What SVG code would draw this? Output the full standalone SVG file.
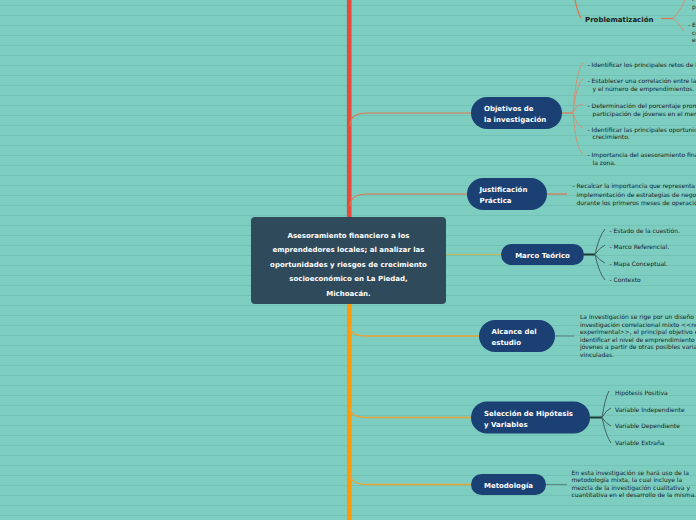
<svg xmlns="http://www.w3.org/2000/svg" width="696" height="520" viewBox="0 0 696 520">
<defs>
<pattern id="bg" width="10" height="10" patternUnits="userSpaceOnUse">
<rect width="10" height="10" fill="#7dcdc0"/>
<rect y="5" width="10" height="1" fill="#72c3b6"/>
</pattern>
<style>
.pill{fill:#1b4073}
.nt{font-family:"DejaVu Sans",Verdana,sans-serif;font-size:7px;font-weight:bold;fill:#ffffff}
.ct{font-family:"DejaVu Sans",Verdana,sans-serif;font-size:7px;font-weight:bold;fill:#ffffff;text-anchor:middle}
.st{font-family:"DejaVu Sans",Verdana,sans-serif;font-size:6px;fill:#16211f}
.pt{font-family:"DejaVu Sans",Verdana,sans-serif;font-size:7px;font-weight:bold;fill:#1a1a1a}
.red{fill:none;stroke:#e2744f;stroke-width:1.2}
.redf{fill:none;stroke:#d98c6c;stroke-width:0.9}
.org{fill:none;stroke:#eca334;stroke-width:1.3}
.yel{fill:none;stroke:#d2b452;stroke-width:1}
.dk{fill:none;stroke:#1f3a36;stroke-width:2}
.dkf{fill:none;stroke:#3d5a56;stroke-width:0.9}
.gr{fill:none;stroke:#5f8a86;stroke-width:1.2}
</style>
</defs>
<rect width="696" height="520" fill="url(#bg)"/>

<g id="connectors">
<line x1="349.2" y1="0" x2="349.2" y2="230" stroke="#e8493a" stroke-width="4.6"/>
<line x1="349.2" y1="290" x2="349.2" y2="520" stroke="#fd9a0c" stroke-width="4.6"/>
<path class="red" d="M350,126 C350,117 355,113 368,113 L472,113"/>
<path class="red" d="M350,206 C350,198 355,194 368,194 L468,194"/>
<path class="yel" d="M446,254.5 L502,254.5"/>
<path class="org" d="M350,326 C350,333 355,336 368,336 L480,336"/>
<path class="org" d="M350,408 C350,414 355,417.5 368,417.5 L472,417.5"/>
<path class="org" d="M350,474 C350,481 355,484.5 368,484.5 L472,484.5"/>
<path class="red" d="M575,0 C577,8 578,14 581,18"/>
<path class="red" d="M661,18.5 L673,18.5"/>
<path class="redf" d="M673,18.5 Q678,14 685,0"/>
<path class="redf" d="M673,18.5 Q678,22 684,31"/>
<path class="red" d="M562,113 L573,113"/>
<path class="redf" d="M573,113 Q576,70 583,63"/>
<path class="redf" d="M573,113 Q576,84 583,79"/>
<path class="redf" d="M573,113 Q577,104 583,104"/>
<path class="redf" d="M573,113 Q577,126 583,128"/>
<path class="redf" d="M573,113 Q576,150 583,154"/>
<path class="red" d="M547,194 L567,194"/>
<path class="dk" d="M584,254.5 L595,254.5"/>
<path class="dkf" d="M595,254.5 Q599,236 605,229"/>
<path class="dkf" d="M595,254.5 Q599,248 605,245"/>
<path class="dkf" d="M595,254.5 Q600,261 605,263"/>
<path class="dkf" d="M595,254.5 Q599,273 605,280"/>
<path class="gr" d="M555,336 L574,336"/>
<path class="dk" d="M590,417.5 L602,417.5"/>
<path class="dkf" d="M602,417.5 Q605,398 609,391"/>
<path class="dkf" d="M602,417.5 Q606,410 611,408"/>
<path class="dkf" d="M602,417.5 Q606,424 611,426"/>
<path class="dkf" d="M602,417.5 Q606,436 611,443"/>
<path class="gr" d="M546,484.5 L567,484.5"/>
</g>

<g id="problematizacion">
<text class="pt" x="585" y="21.8">Problematización</text>
<text class="st" x="688" y="0.5">- Planteamiento</text>
<text class="st" x="692" y="9">problema</text>
<text class="st" x="688" y="26.5">- El problema</text>
<text class="st" x="692" y="34.5">consiste</text>
<text class="st" x="692" y="42">en</text>
</g>

<g id="objetivos">
<rect class="pill" x="471" y="97" width="91" height="32" rx="16"/>
<text class="nt" x="484" y="110.5">Objetivos de</text>
<text class="nt" x="484" y="121.5">la investigación</text>
<text class="st" x="587.5" y="67">- Identificar los principales retos de los emprendedores.</text>
<text class="st" x="587.5" y="83">- Establecer una correlación entre la edad</text>
<text class="st" x="592.5" y="90.5">y el número de emprendimientos.</text>
<text class="st" x="587.5" y="108">- Determinación del porcentaje promedio de</text>
<text class="st" x="592.5" y="115.5">participación de jóvenes en el mercado.</text>
<text class="st" x="587.5" y="131.5">- Identificar las principales oportunidades de</text>
<text class="st" x="592.5" y="139">crecimiento.</text>
<text class="st" x="587.5" y="156.5">- Importancia del asesoramiento financiero en</text>
<text class="st" x="592.5" y="164.5">la zona.</text>
</g>

<g id="justificacion">
<rect class="pill" x="467" y="178" width="80" height="32" rx="16"/>
<text class="nt" x="479.5" y="191.5">Justificación</text>
<text class="nt" x="479.5" y="202.5">Práctica</text>
<text class="st" x="572.5" y="188">- Recalcar la importancia que representa la</text>
<text class="st" x="576.5" y="196.5">implementación de estrategias de negocio</text>
<text class="st" x="576.5" y="205">durante los primeros meses de operación.</text>
</g>

<g id="central">
<rect x="251" y="217" width="195" height="87" rx="4" fill="#2e4a5b"/>
<text class="ct" x="348.5" y="237.5">Asesoramiento financiero a los</text>
<text class="ct" x="348.5" y="252">emprendedores locales; al analizar las</text>
<text class="ct" x="348.5" y="266.5">oportunidades y riesgos de crecimiento</text>
<text class="ct" x="348.5" y="281">socioeconómico en La Piedad,</text>
<text class="ct" x="348.5" y="295.5">Michoacán.</text>
</g>

<g id="marco">
<rect class="pill" x="501" y="244" width="83" height="21" rx="10.5"/>
<text class="ct" x="542.5" y="257.5">Marco Teórico</text>
<text class="st" x="609.5" y="233">- Estado de la cuestión.</text>
<text class="st" x="609.5" y="249">- Marco Referencial.</text>
<text class="st" x="609.5" y="265.5">- Mapa Conceptual.</text>
<text class="st" x="609.5" y="282">- Contexto</text>
</g>

<g id="alcance">
<rect class="pill" x="479" y="320" width="76" height="32" rx="16"/>
<text class="nt" x="491.5" y="333.5">Alcance del</text>
<text class="nt" x="491.5" y="344.5">estudio</text>
<text class="st" x="580" y="319">La investigación se rige por un diseño de</text>
<text class="st" x="580" y="326.5">investigación correlacional mixto &lt;&lt;no</text>
<text class="st" x="580" y="334">experimental&gt;&gt;, el principal objetivo es</text>
<text class="st" x="580" y="341.5">identificar el nivel de emprendimiento en</text>
<text class="st" x="580" y="349">jóvenes a partir de otras posibles variables</text>
<text class="st" x="580" y="356.5">vinculadas.</text>
</g>

<g id="hipotesis">
<rect class="pill" x="471" y="401.5" width="119" height="32" rx="16"/>
<text class="nt" x="484" y="415.5">Selección de Hipótesis</text>
<text class="nt" x="484" y="426.5">y Variables</text>
<text class="st" x="615" y="395">Hipótesis Positiva</text>
<text class="st" x="615" y="411.5">Variable Independiente</text>
<text class="st" x="615" y="427.5">Variable Dependiente</text>
<text class="st" x="615" y="444.5">Variable Extraña</text>
</g>

<g id="metodologia">
<rect class="pill" x="471" y="474" width="75" height="21" rx="10.5"/>
<text class="ct" x="508.5" y="488">Metodología</text>
<text class="st" x="571.5" y="475">En esta investigación se hará uso de la</text>
<text class="st" x="571.5" y="482">metodología mixta, la cual incluye la</text>
<text class="st" x="571.5" y="489.5">mezcla de la investigación cualitativa y</text>
<text class="st" x="571.5" y="497">cuantitativa en el desarrollo de la misma.</text>
</g>
</svg>
